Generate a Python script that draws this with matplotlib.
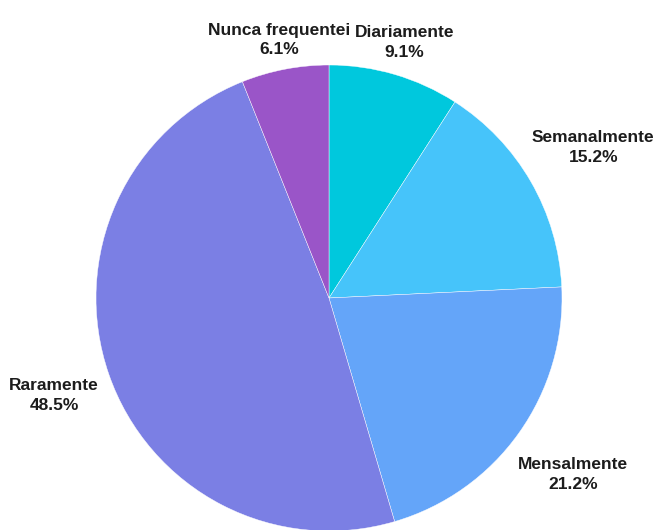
import numpy as np
import matplotlib.pyplot as plt

labels = ['Diariamente', 'Semanalmente', 'Mensalmente', 'Raramente', 'Nunca frequentei']
counts = [3, 5, 7, 16, 2]
colors = ['#00C8DD', '#46C4FA', '#64A5F9', '#7B7FE4', '#9A55C8']

# radial distance of each label, in pie radii
label_dist = [1.153, 1.31, 1.287, 1.248, 1.139]

W, H = 656, 530
cx, cy, R = 329, 298, 233

plt.rcParams['font.family'] = ['Liberation Sans', 'DejaVu Sans']

fig = plt.figure(figsize=(W / 100, H / 100), dpi=100)
ax = fig.add_axes([0, 0, 1, 1])

wedges, _ = ax.pie(counts, colors=colors, startangle=90, counterclock=False,
                   radius=R, center=(0, 0),
                   wedgeprops=dict(edgecolor='white', linewidth=0.3))

total = sum(counts)
for w, lab, c, d in zip(wedges, labels, counts, label_dist):
    ang = np.deg2rad((w.theta1 + w.theta2) / 2)
    x = R * d * np.cos(ang)
    y = R * d * np.sin(ang) - 2.5  # text baseline sits a touch lower
    ax.text(x, y, f'{lab}\n{100 * c / total:.1f}%', ha='center', va='center',
            fontsize=12.5, fontweight='bold', color='#1c1c1c', linespacing=1.4)

ax.set_xlim(-cx, W - cx)
ax.set_ylim(-(H - cy), cy)
ax.set_aspect('equal')
ax.axis('off')

fig.savefig('out.png', dpi=100)
